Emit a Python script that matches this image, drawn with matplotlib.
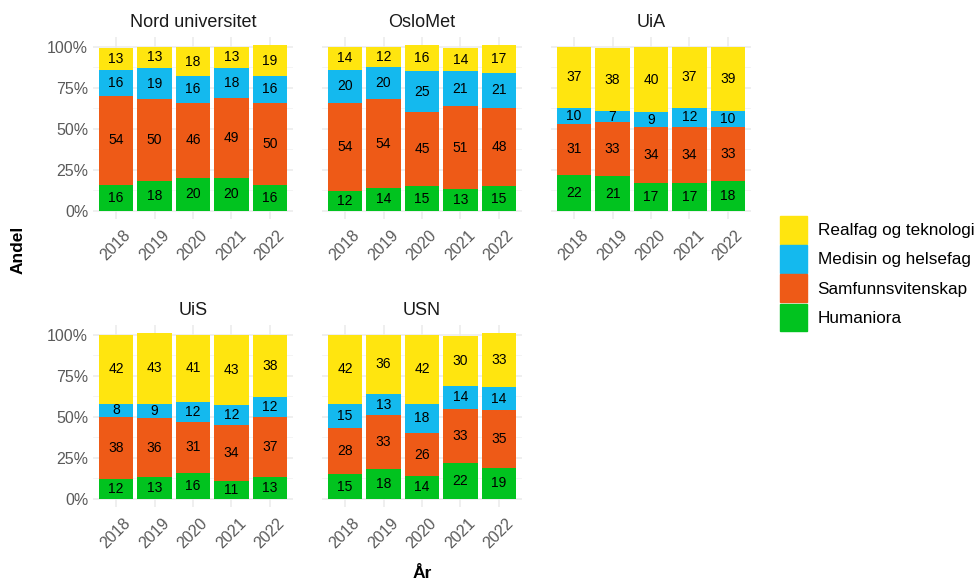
import numpy as np
import matplotlib.pyplot as plt
from matplotlib.patches import Patch
from matplotlib.ticker import FixedLocator

plt.rcParams['font.family'] = ['Liberation Sans', 'DejaVu Sans']

# share (%) by field, per institution and year
years = ["2018", "2019", "2020", "2021", "2022"]
institutions = ["Nord universitet", "OsloMet", "UiA", "UiS", "USN"]
fields = ["Humaniora", "Samfunnsvitenskap", "Medisin og helsefag", "Realfag og teknologi"]

humaniora = {
    "Nord universitet": [16, 18, 20, 20, 16],
    "OsloMet": [12, 14, 15, 13, 15],
    "UiA": [22, 21, 17, 17, 18],
    "UiS": [12, 13, 16, 11, 13],
    "USN": [15, 18, 14, 22, 19],
}
samfunn = {
    "Nord universitet": [54, 50, 46, 49, 50],
    "OsloMet": [54, 54, 45, 51, 48],
    "UiA": [31, 33, 34, 34, 33],
    "UiS": [38, 36, 31, 34, 37],
    "USN": [28, 33, 26, 33, 35],
}
medisin = {
    "Nord universitet": [16, 19, 16, 18, 16],
    "OsloMet": [20, 20, 25, 21, 21],
    "UiA": [10, 7, 9, 12, 10],
    "UiS": [8, 9, 12, 12, 12],
    "USN": [15, 13, 18, 14, 14],
}
realfag = {
    "Nord universitet": [13, 13, 18, 13, 19],
    "OsloMet": [14, 12, 16, 14, 17],
    "UiA": [37, 38, 40, 37, 39],
    "UiS": [42, 43, 41, 43, 38],
    "USN": [42, 36, 42, 30, 33],
}
colors = ["#01C31F", "#EE5A17", "#14B9EE", "#FFE50F"]

W, H = 977, 581
fig = plt.figure(figsize=(W / 100, H / 100), dpi=100)

# panel boxes in pixels: left, top, width, height
lefts = [93, 322, 551, 93, 322]
tops = [37, 37, 37, 325, 325]
pw, ph = 200, 182

x = np.arange(1, len(years) + 1)
for i, inst in enumerate(institutions):
    ax = fig.add_axes([lefts[i] / W, 1 - (tops[i] + ph) / H, pw / W, ph / H])
    series = [humaniora[inst], samfunn[inst], medisin[inst], realfag[inst]]
    bottom = np.zeros(len(years))
    for vals, col in zip(series, colors):
        v = np.array(vals) / 100
        ax.bar(x, v, width=0.9, bottom=bottom, color=col, zorder=2)
        for xi, b, h, lab in zip(x, bottom, v, vals):
            ax.text(xi, b + h / 2, str(lab), ha="center", va="center",
                    fontsize=10, color="black", zorder=3)
        bottom += v
    ax.set_xlim(0.4, 5.6)
    ax.set_ylim(-0.05, 1.06)
    ax.set_xticks(x)
    ax.set_xticklabels(years, rotation=45, ha="center", va="top")
    ax.set_yticks([0, 0.25, 0.5, 0.75, 1.0])
    ax.yaxis.set_minor_locator(FixedLocator([0.125, 0.375, 0.625, 0.875]))
    if i in (0, 3):
        ax.set_yticklabels(["0%", "25%", "50%", "75%", "100%"])
    else:
        ax.set_yticklabels([])
    ax.tick_params(length=0, labelsize=11.5, colors="#5A5A5A", which="both")
    ax.tick_params(axis="x", pad=6)
    ax.grid(True, which="major", color="#EBEBEB", lw=1.1, zorder=0)
    ax.grid(True, which="minor", axis="y", color="#F3F3F3", lw=0.6, zorder=0)
    for s in ax.spines.values():
        s.set_visible(False)
    ax.set_title(inst, fontsize=13, color="#1A1A1A", pad=7)

fig.text(18 / W, 1 - 250 / H, "Andel", rotation=90, ha="center", va="center",
         fontsize=12.5, fontweight="bold")
fig.text(422 / W, 1 - 573 / H, "År", ha="center", va="center",
         fontsize=12.5, fontweight="bold")

handles = [Patch(color=c, label=f) for c, f in zip(colors, fields)][::-1]
fig.legend(handles=handles, loc="upper left", bbox_to_anchor=(780 / W, 1 - 216 / H),
           frameon=False, fontsize=12.3, handlelength=1.6, handleheight=2.1,
           labelspacing=0.1, handletextpad=0.6, borderaxespad=0,
           borderpad=0)

fig.savefig("out.png", dpi=100)
